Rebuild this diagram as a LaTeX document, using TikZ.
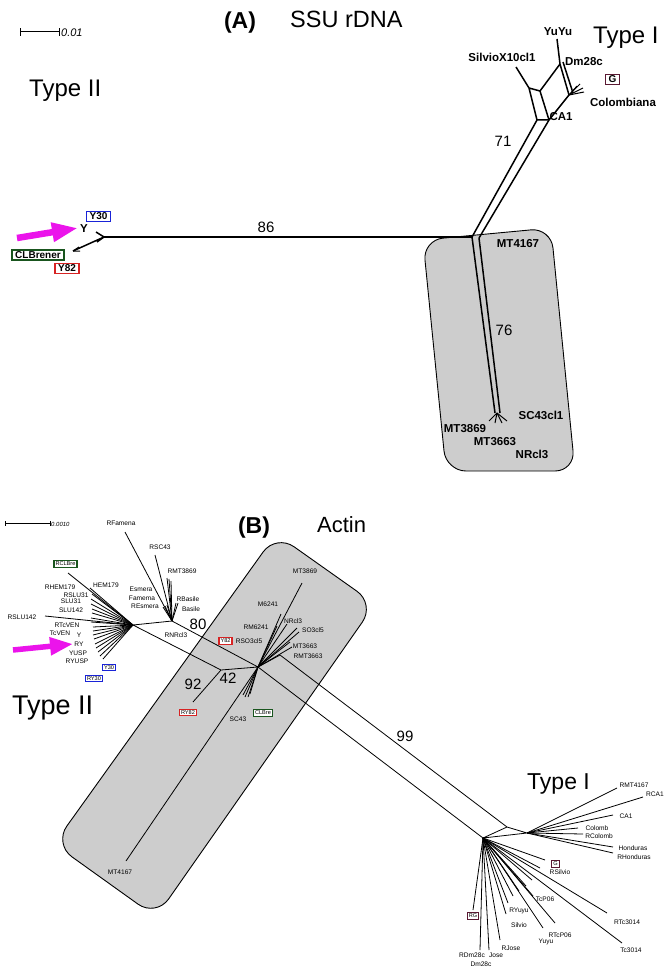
\documentclass[tikz,border=0pt]{standalone}
\usepackage{fontspec}
\setmainfont{Liberation Sans}
\usetikzlibrary{arrows.meta}
\definecolor{magA}{RGB}{235,20,235}
\definecolor{tagblue}{RGB}{25,35,215}
\definecolor{tagred}{RGB}{215,35,35}
\definecolor{taggreen}{RGB}{25,85,30}
\definecolor{tagmaroon}{RGB}{90,25,50}
\definecolor{greyfill}{RGB}{205,205,205}
\begin{document}
\begin{tikzpicture}[x=1pt,y=-1pt,
  lbA/.style={font=\fontsize{11.5}{13}\selectfont\bfseries,inner sep=0pt},
  lbB/.style={font=\fontsize{6.6}{7}\selectfont,inner sep=0pt},
  ttl/.style={font=\fontsize{24}{28}\selectfont,inner sep=0pt,anchor=base west},
  num/.style={font=\fontsize{15}{17}\selectfont,inner sep=0pt},
  edA/.style={line width=1.5pt},
  edB/.style={line width=0.8pt},
  tagA/.style={draw,line width=1.6pt,fill=white,inner xsep=3pt,inner ysep=1.5pt,font=\fontsize{10}{11}\selectfont\bfseries},
  tagB/.style={draw,line width=1.3pt,fill=white,inner xsep=1.5pt,inner ysep=1.2pt,font=\fontsize{5.6}{6}\selectfont},
  greyreg/.style={fill=greyfill,draw=black,line width=0.9pt},
  magarrow/.style={draw=magA,line width=6.5pt,-{Triangle[length=26pt,width=18pt]}}
]
\useasboundingbox (0,0) rectangle (668,971);

%================ PANEL A =================
\coordinate (sbA0) at (20,32);
\coordinate (sbA1) at (59,32);
\draw[line width=1pt] (sbA0) -- (sbA1);
\draw[line width=1pt] ([yshift=-4pt]sbA0) -- ([yshift=4pt]sbA0);
\draw[line width=1pt] ([yshift=-4pt]sbA1) -- ([yshift=4pt]sbA1);
\node[font=\fontsize{11}{12}\selectfont\itshape,anchor=west,inner sep=0pt] (sbAl) at (61,33) {0.01};

\node[font=\fontsize{23}{28}\selectfont\bfseries,anchor=base,inner sep=0pt] (tA) at (240,29) {(A)};
\node[ttl,font=\fontsize{23.5}{28}\selectfont] (tSSU) at (290,28) {SSU rDNA};
\node[ttl] (tIA) at (593,44) {Type I};
\node[ttl] (tIIA) at (29,97) {Type II};

\path[greyreg,rounded corners=20pt] (423,240) -- (551,228) -- (575,471) -- (446,471) -- cycle;

\coordinate (hA) at (472,237);
\coordinate (hAr) at (479,238);
\coordinate (lA) at (104,237);
\draw[line width=2.6pt] (lA) -- (hA);
\coordinate (yA) at (96,232);
\coordinate (yA2) at (97,242);
\coordinate (clA) at (73,251);
\draw[edA] (lA) -- (yA) (lA) -- (yA2) (lA) -- (clA);
\coordinate (clA1) at (79,247);
\coordinate (clA2) at (80,251);
\draw[line width=1pt] (clA) -- (clA1) (clA) -- (clA2);

\coordinate (a1) at (560,64);
\coordinate (a1t) at (557,39);
\coordinate (a1b) at (563,62);
\coordinate (a2) at (529,88);
\coordinate (a2t) at (516,67);
\coordinate (a3) at (540,91);
\coordinate (a4) at (537,120);
\coordinate (a5) at (549,120);
\coordinate (a6) at (569,95);
\coordinate (a6b) at (573,93);
\draw[edA] (a1t) -- (a1) (a2t) -- (a2) (a2) -- (a3) (a3) -- (a1)
  (a2) -- (a4) (a3) -- (a5) (a4) -- (a5) (a1) -- (a6) (a1b) -- (a6b) (a5) -- (a6);
\draw[edA] (hA) -- (a4) (hAr) -- (a5);
\foreach \xx/\yy [count=\i] in {580/84,583/88,577/86,584/92}{
  \coordinate (ca\i) at (\xx,\yy);
  \draw[line width=1pt] (a6) -- (ca\i);
}
\coordinate (dA1) at (495,413);
\coordinate (dA2) at (500,413);
\draw[edA] (hA) -- (dA1) (hAr) -- (dA2);
\coordinate (dAf) at (497,413);
\foreach \xx/\yy [count=\i] in {489/421,495/423,502/423,507/421}{
  \coordinate (fa\i) at (\xx,\yy);
  \draw[line width=1pt] (dAf) -- (fa\i);
}

\node[num] (n86) at (266,227) {86};
\node[num] (n71) at (503,141) {71};
\node[num] (n76) at (504,330) {76};
\node[lbA] (YuYuA) at (558,32) {YuYu};
\node[lbA] (SilA) at (502,57) {SilvioX10cl1};
\node[lbA] (DmA) at (584,62) {Dm28c};
\node[lbA] (ColA) at (623,102) {Colombiana};
\node[lbA] (CAA) at (561,117) {CA1};
\node[lbA] (MT41A) at (518,244) {MT4167};
\node[lbA] (SCA) at (541,415) {SC43cl1};
\node[lbA] (MT38A) at (465,429) {MT3869};
\node[lbA] (MT36A) at (495,442) {MT3663};
\node[lbA] (NRA) at (532,454) {NRcl3};
\node[lbA] (YA) at (84,229) {Y};
\node[tagA,draw=tagmaroon] (GA) at (612.5,79.5) {G};
\node[tagA,draw=tagblue] (Y30A) at (98.5,216.5) {Y30};
\node[tagA,draw=taggreen] (CLA) at (38,255) {CLBrener};
\node[tagA,draw=tagred] (Y82A) at (67,268.5) {Y82};

\coordinate (mA0) at (17,238);
\coordinate (mA1) at (78,228);
\draw[magarrow] (mA0) -- (mA1);

%================ PANEL B =================
\coordinate (sbB0) at (5,523);
\coordinate (sbB1) at (50,523);
\draw[line width=0.6pt] (sbB0) -- (sbB1);
\draw[line width=0.6pt] ([yshift=-2.5pt]sbB0) -- ([yshift=2.5pt]sbB0);
\draw[line width=0.6pt] ([yshift=-2.5pt]sbB1) -- ([yshift=2.5pt]sbB1);
\node[font=\fontsize{6}{7}\selectfont\itshape,anchor=west,inner sep=0pt] (sbBl) at (51,524) {0.0010};

\node[font=\fontsize{23}{28}\selectfont\bfseries,anchor=base,inner sep=0pt] (tB) at (254,533) {(B)};
\node[ttl,font=\fontsize{22}{26}\selectfont] (tAct) at (317,532) {Actin};
\node[ttl,font=\fontsize{27}{30}\selectfont] (tIIB) at (12,714) {Type II};
\node[ttl,font=\fontsize{23}{28}\selectfont] (tIB) at (527,789) {Type I};

\path[greyreg,rounded corners=22pt] (276,534) -- (375,604) -- (156,917) -- (54,844) -- cycle;

\coordinate (T2) at (133,625);
\coordinate (R) at (172,621);
\coordinate (N42) at (221,670);
\coordinate (H) at (258,667);
\coordinate (K) at (280,655);
\coordinate (T1) at (483,838);
\coordinate (T1p) at (507,827);
\coordinate (S) at (527,833);
\coordinate (RY82e) at (193,702);
\draw[edB] (T2) -- (R) (R) -- (H) (T2) -- (N42) (N42) -- (H) (N42) -- (RY82e)
  (H) -- (K) (H) -- (T1) (K) -- (T1p) (T1) -- (T1p) (T1p) -- (S) (T1) -- (S);

\foreach \xx/\yy [count=\i] in {68/573,90/588,92/594,91/599,91/604,92/609,92/613,45/616,91/618,91/622,93/627,93/631,93/635,94/639,95/644,96/648,98/652,100/656,103/659}{
  \coordinate (t2f\i) at (\xx,\yy);
  \draw[edB] (T2) -- (t2f\i);
}
\foreach \xx/\yy [count=\i] in {125/532,155/555,167/578,169/579,171/581,176/603,178/603,163/607,165/606,167/605}{
  \coordinate (rf\i) at (\xx,\yy);
  \draw[edB] (R) -- (rf\i);
}
\foreach \xx/\yy [count=\i] in {302/583,281/614,277/626,287/624,297/628,299/632,290/642,292/647,243/695,245/697,248/697,250/694,126/861}{
  \coordinate (hf\i) at (\xx,\yy);
  \draw[edB] (H) -- (hf\i);
}
\foreach \xx/\yy [count=\i] in {617/788,643/797,613/815,578/828,583/834,613/847,613/853}{
  \coordinate (sf\i) at (\xx,\yy);
  \draw[edB] (S) -- (sf\i);
}
\foreach \xx/\yy [count=\i] in {545/860,540/868,532/880,526/886,519/891,513/896,533/896,607/913,622/943,555/923,543/928,508/903,506/914,500/940,489/950,480/950,473/910}{
  \coordinate (tf\i) at (\xx,\yy);
  \draw[edB] (T1) -- (tf\i);
}

\node[num] (n80) at (198,624) {80};
\node[num] (n92) at (193,684) {92};
\node[num] (n42) at (228,678) {42};
\node[num] (n99) at (405,736) {99};

\node[lbB] (bHEM) at (106,585) {HEM179};
\node[lbB] (bRHEM) at (60,587) {RHEM179};
\node[lbB] (bRSLU31) at (76,595) {RSLU31};
\node[lbB] (bSLU31) at (71,601) {SLU31};
\node[lbB] (bSLU142) at (71,610) {SLU142};
\node[lbB] (bRSLU142) at (22,617) {RSLU142};
\node[lbB] (bRTcVEN) at (67,625) {RTcVEN};
\node[lbB] (bTcVEN) at (60,633) {TcVEN};
\node[lbB] (bY) at (79,635) {Y};
\node[lbB] (bRY) at (79,644) {RY};
\node[lbB] (bYUSP) at (78,653) {YUSP};
\node[lbB] (bRYUSP) at (77,661) {RYUSP};
\node[tagB,draw=taggreen] (bRCLBre) at (65.5,564) {RCLBre};
\node[tagB,draw=tagblue] (bY30) at (109,667.5) {Y30};
\node[tagB,draw=tagblue] (bRY30) at (94,678.5) {RY30};
\node[lbB] (bRFam) at (121,523) {RFamena};
\node[lbB] (bRSC43) at (160,547) {RSC43};
\node[lbB] (bRMT38) at (182,571) {RMT3869};
\node[lbB] (bEsm) at (141,589) {Esmera};
\node[lbB] (bFam) at (142,598) {Famema};
\node[lbB] (bREsm) at (145,606) {REsmera};
\node[lbB] (bRBas) at (188,599) {RBasile};
\node[lbB] (bBas) at (191,609) {Basile};
\node[lbB] (bRNR) at (176,635) {RNRcl3};
\node[lbB] (bMT38) at (305,571) {MT3869};
\node[lbB] (bM62) at (268,604) {M6241};
\node[lbB] (bRM62) at (256,627) {RM6241};
\node[lbB] (bNR) at (293,621) {NRcl3};
\node[lbB] (bSO3) at (313,630) {SO3cl5};
\node[lbB] (bMT36) at (305,646) {MT3663};
\node[lbB] (bRMT36) at (308,656) {RMT3663};
\node[lbB] (bRSO3) at (249,641) {RSO3cl5};
\node[tagB,draw=tagred] (bY82) at (225.5,641) {Y82};
\node[tagB,draw=tagred] (bRY82) at (188,712.5) {RY82};
\node[lbB] (bSC43) at (238,719) {SC43};
\node[tagB,draw=taggreen] (bCLBre) at (263,713) {CLBre};
\node[lbB] (bMT41) at (120,872) {MT4167};
\node[lbB] (bRMT41) at (634,785) {RMT4167};
\node[lbB] (bRCA1) at (655,794) {RCA1};
\node[lbB] (bCA1) at (626,816) {CA1};
\node[lbB] (bCol) at (597,828) {Colomb};
\node[lbB] (bRCol) at (599,836) {RColomb};
\node[lbB] (bHon) at (633,848) {Honduras};
\node[lbB] (bRHon) at (634,857) {RHonduras};
\node[lbB] (bRSil) at (560,872) {RSilvio};
\node[tagB,draw=tagmaroon] (bG) at (555.5,864) {G};
\node[lbB] (bTcP) at (545,899) {TcP06};
\node[lbB] (bRTc30) at (627,922) {RTc3014};
\node[lbB] (bTc30) at (631,950) {Tc3014};
\node[lbB] (bRTcP) at (560,935) {RTcP06};
\node[lbB] (bYuyu) at (546,942) {Yuyu};
\node[lbB] (bRYuyu) at (519,911) {RYuyu};
\node[lbB] (bSil) at (519,925) {Silvio};
\node[lbB] (bRJose) at (511,948) {RJose};
\node[lbB] (bJose) at (496,955) {Jose};
\node[lbB] (bRDm) at (472,955) {RDm28c};
\node[lbB] (bDm) at (481,964) {Dm28c};
\node[tagB,draw=tagmaroon] (bRG) at (473,916) {RG};

\coordinate (mB0) at (13,650);
\coordinate (mB1) at (73,644);
\draw[magarrow,line width=5.5pt,-{Triangle[length=23pt,width=17pt]}] (mB0) -- (mB1);
\end{tikzpicture}
\end{document}
